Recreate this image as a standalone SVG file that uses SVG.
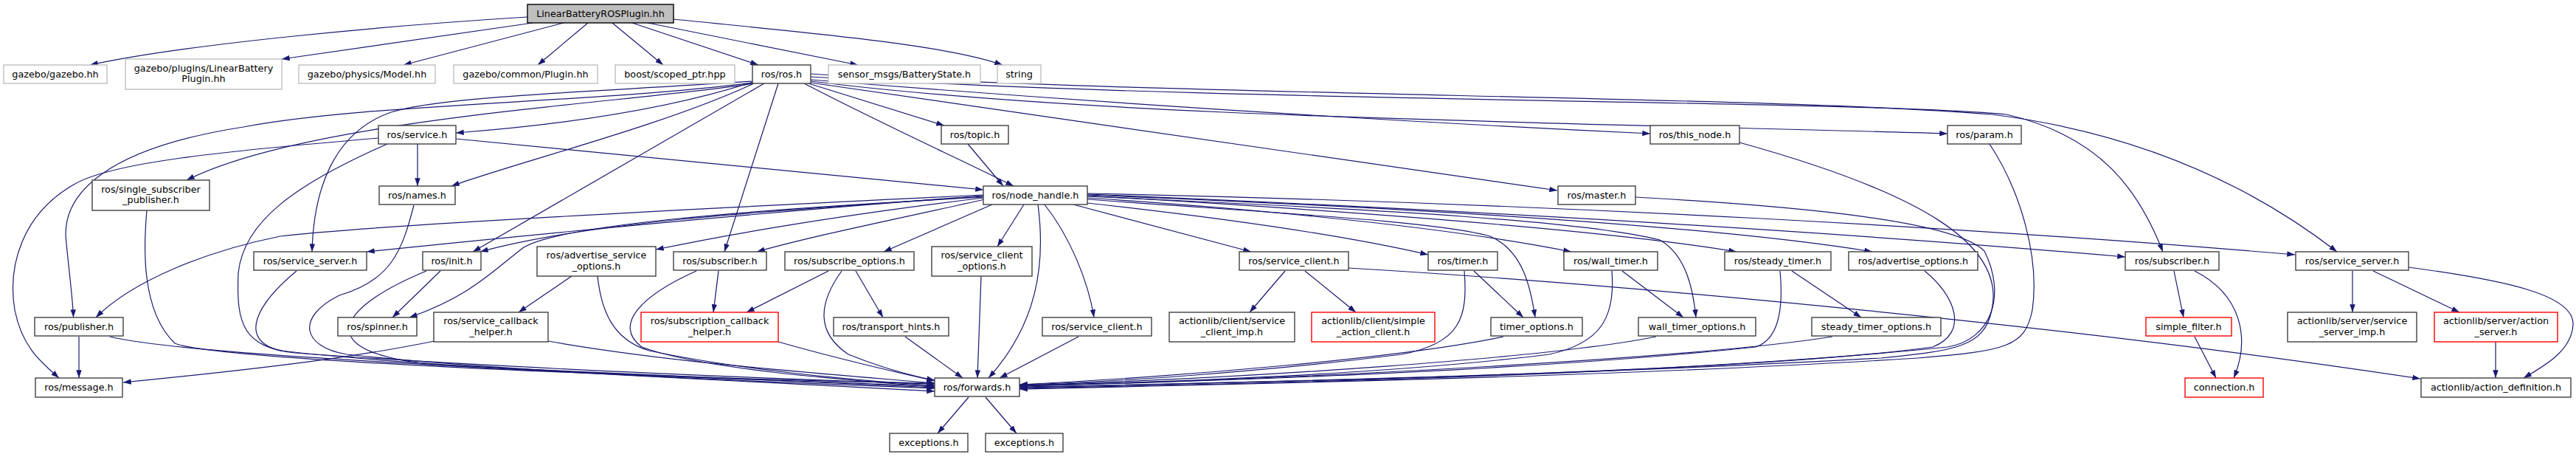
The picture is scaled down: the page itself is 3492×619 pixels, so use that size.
<svg xmlns="http://www.w3.org/2000/svg" width="3492" height="619" viewBox="0 0 3492 619">
<style>
rect{fill:#fff;stroke:#404040;stroke-width:1.4}
.g rect{stroke:#bfbfbf}
.r rect{stroke:#ff0000}
.root rect{fill:#bfbfbf;stroke:#000}
text{font-family:"DejaVu Sans","Liberation Sans",sans-serif;font-size:12.8px;fill:#000;text-anchor:middle}
#edges path{fill:none;stroke:#191970;stroke-width:1.2;marker-end:url(#ah)}
</style>
<defs>
<marker id="ah" viewBox="0 0 10 7" markerWidth="11" markerHeight="7.5" markerUnits="userSpaceOnUse" refX="10" refY="3.5" orient="auto"><path d="M0,0 L10,3.5 L0,7 z" fill="#191970"/></marker>
</defs>
<rect x="0" y="0" width="3492" height="619" style="fill:#fff;stroke:none"/>
<g id="edges">
<path d="M715,23 C520,35 250,60 122,88"/>
<path d="M722,31 L382,80"/>
<path d="M764,31 L547,88"/>
<path d="M797,31 L729,88"/>
<path d="M830,31 L899,88"/>
<path d="M857,31 L1028,88"/>
<path d="M878,31 L1163,88"/>
<path d="M913,26 C1100,45 1280,60 1359,88"/>
<path d="M1022,113 C850,140 420,160 253,244"/>
<path d="M1021,111 C900,150 750,170 618,180"/>
<path d="M1022,113 C900,170 700,220 612,252"/>
<path d="M1021,112 C800,140 500,140 330,172 C150,200 80,260 90,330 C95,380 99,410 99.5,430"/>
<path d="M1021,110 C800,125 600,130 530,152 C450,180 425,260 423,341"/>
<path d="M1036,113 L641,341"/>
<path d="M1055,113 L982,341"/>
<path d="M1096,113 L1280,170"/>
<path d="M1090,113 C1200,170 1300,215 1374,252"/>
<path d="M1099,108 C1500,140 1900,165 2237,181"/>
<path d="M1099,110 C1500,160 2100,165 2640,181"/>
<path d="M1099,112 L2111,258"/>
<path d="M1099,100 C1600,130 2400,130 2700,155 C2900,180 3050,250 3168,341"/>
<path d="M1099,104 C1700,140 2500,135 2720,155 C2850,185 2900,260 2932,341"/>
<path d="M1333,264 C1000,280 500,305 380,320 C280,340 180,380 130,430"/>
<path d="M1333,265 C1000,290 700,320 497,341"/>
<path d="M1333,266 C1050,285 800,300 651,341"/>
<path d="M1333,267 C1000,285 760,305 710,335 C670,365 640,400 555,430"/>
<path d="M1333,268 C1150,290 1000,315 889,338"/>
<path d="M1335,270 C1200,300 1100,320 1026,341"/>
<path d="M1345,277 L1198,341"/>
<path d="M1388,277 L1352,334"/>
<path d="M1407,277 C1418,360 1405,440 1340,512"/>
<path d="M1416,277 C1450,320 1475,380 1483,430"/>
<path d="M1455,277 L1696,341"/>
<path d="M1474,275 C1700,300 1850,325 1936,345"/>
<path d="M1474,270 C1750,290 1950,300 2020,320 C2065,340 2075,390 2081,430"/>
<path d="M1474,268 C1800,290 2000,315 2130,341"/>
<path d="M1474,266 C1900,285 2150,300 2250,325 C2285,345 2295,390 2299,430"/>
<path d="M1474,265 C1900,290 2200,315 2354,341"/>
<path d="M1474,264 C2000,285 2350,310 2538,341"/>
<path d="M1474,263 C2000,285 2500,315 2881,348"/>
<path d="M1474,262 C2100,275 2700,310 3111,345"/>
<path d="M597,367 L532,430"/>
<path d="M578,367 C450,420 420,480 600,495 C900,510 1150,520 1267,525"/>
<path d="M561,278 C545,340 530,380 460,400 C400,430 410,470 470,480 C700,505 1100,520 1267,526"/>
<path d="M566,195 L566,252"/>
<path d="M618,188 C900,215 1150,240 1333,257"/>
<path d="M513,187 C300,205 150,220 100,250 C30,290 10,360 20,420 C30,470 55,490 80,512"/>
<path d="M525,195 C400,250 330,300 323,370 C320,440 330,470 400,478 C700,500 1100,515 1267,520"/>
<path d="M199,285 C195,330 190,420 237,465 C300,490 900,510 1267,523"/>
<path d="M107,456 L107,512"/>
<path d="M149,456 C250,480 600,495 1267,530"/>
<path d="M402,367 C350,410 320,460 380,475 C600,500 1000,515 1267,519"/>
<path d="M589,462 C500,480 400,495 167,518"/>
<path d="M743,462 C900,490 1100,505 1267,519"/>
<path d="M775,374 L703,423"/>
<path d="M810,374 C815,420 830,460 880,475 C1000,500 1150,515 1267,522"/>
<path d="M974,367 L967,423"/>
<path d="M944,367 C870,400 830,440 870,470 C950,500 1150,515 1267,524"/>
<path d="M1123,367 L1012,423"/>
<path d="M1160,367 L1197,430"/>
<path d="M1141,367 C1110,410 1105,450 1150,480 C1200,500 1240,510 1267,515"/>
<path d="M1055,463 C1150,490 1220,505 1267,516"/>
<path d="M1227,456 L1305,512"/>
<path d="M1330,374 L1325,512"/>
<path d="M1462,456 L1355,512"/>
<path d="M1742,367 L1694,423"/>
<path d="M1769,367 L1838,423"/>
<path d="M1828,363 C2200,385 2800,440 3281,513"/>
<path d="M1998,367 L2065,430"/>
<path d="M1985,367 C1990,430 1980,465 1900,480 C1700,505 1500,518 1382,521"/>
<path d="M2199,367 L2282,430"/>
<path d="M2185,367 C2190,430 2170,465 2100,480 C1900,505 1600,518 1382,522"/>
<path d="M2038,456 C1900,485 1600,510 1382,521"/>
<path d="M2245,456 C2100,485 1700,512 1382,522"/>
<path d="M2429,367 L2523,430"/>
<path d="M2413,367 C2418,420 2410,460 2380,470 C2100,500 1700,515 1382,523"/>
<path d="M2484,456 C2300,485 1800,512 1382,523"/>
<path d="M2609,367 C2650,400 2670,450 2620,470 C2400,500 1900,515 1382,524"/>
<path d="M2358,193 C2600,260 2720,330 2700,420 C2690,470 2650,475 2550,485 C2200,505 1700,518 1382,525"/>
<path d="M2217,267 C2450,280 2650,300 2690,340 C2720,400 2700,460 2640,470 C2300,505 1800,518 1382,526"/>
<path d="M2697,195 C2740,260 2765,350 2755,420 C2745,470 2720,475 2600,485 C2200,510 1700,520 1382,527"/>
<path d="M2947,367 L2960,430"/>
<path d="M2975,367 C3040,400 3050,460 3028,512"/>
<path d="M2975,456 L3004,512"/>
<path d="M3189,367 L3189,423"/>
<path d="M3217,367 L3334,423"/>
<path d="M3265,362 C3400,380 3490,400 3488,440 C3486,475 3450,495 3421,512"/>
<path d="M3383,463 L3383,512"/>
<path d="M1312,195 L1360,252"/>
<path d="M1313,538 L1271,587"/>
<path d="M1336,538 L1378,587"/>
</g>
<g id="node1" class="root"><rect x="715" y="6" width="198" height="25"/><text x="814" y="22.5">LinearBatteryROSPlugin.hh</text></g>
<g id="node2" class="g"><rect x="5" y="88" width="140" height="25"/><text x="75" y="104.5">gazebo/gazebo.hh</text></g>
<g id="node3" class="g"><rect x="170" y="80" width="212" height="41"/><text x="276" y="96.5">gazebo/plugins/LinearBattery</text><text x="276" y="111">Plugin.hh</text></g>
<g id="node4" class="g"><rect x="405" y="88" width="185" height="25"/><text x="497.5" y="104.5">gazebo/physics/Model.hh</text></g>
<g id="node5" class="g"><rect x="615" y="88" width="195" height="25"/><text x="712.5" y="104.5">gazebo/common/Plugin.hh</text></g>
<g id="node6" class="g"><rect x="834" y="88" width="162" height="25"/><text x="915" y="104.5">boost/scoped_ptr.hpp</text></g>
<g id="node7"><rect x="1020" y="88" width="79" height="25"/><text x="1059.5" y="104.5">ros/ros.h</text></g>
<g id="node8" class="g"><rect x="1123" y="88" width="206" height="25"/><text x="1226" y="104.5">sensor_msgs/BatteryState.h</text></g>
<g id="node9" class="g"><rect x="1352" y="88" width="59" height="25"/><text x="1381.5" y="104.5">string</text></g>
<g id="node10"><rect x="513" y="170" width="105" height="25"/><text x="565.5" y="186.5">ros/service.h</text></g>
<g id="node11"><rect x="125" y="244" width="159" height="41"/><text x="204.5" y="260.5">ros/single_subscriber</text><text x="204.5" y="275">_publisher.h</text></g>
<g id="node12"><rect x="514" y="252" width="103" height="25"/><text x="565.5" y="268.5">ros/names.h</text></g>
<g id="node13"><rect x="1276" y="170" width="91" height="25"/><text x="1321.5" y="186.5">ros/topic.h</text></g>
<g id="node14"><rect x="1333" y="252" width="141" height="25"/><text x="1403.5" y="268.5">ros/node_handle.h</text></g>
<g id="node15"><rect x="2237" y="170" width="121" height="25"/><text x="2297.5" y="186.5">ros/this_node.h</text></g>
<g id="node16"><rect x="2112" y="252" width="105" height="25"/><text x="2164.5" y="268.5">ros/master.h</text></g>
<g id="node17"><rect x="2640" y="170" width="100" height="25"/><text x="2690" y="186.5">ros/param.h</text></g>
<g id="node18"><rect x="344" y="341" width="153" height="25"/><text x="420.5" y="357.5">ros/service_server.h</text></g>
<g id="node19"><rect x="47" y="430" width="120" height="25"/><text x="107" y="446.5">ros/publisher.h</text></g>
<g id="node20"><rect x="48" y="512" width="118" height="26"/><text x="107" y="529">ros/message.h</text></g>
<g id="node21"><rect x="458" y="430" width="107" height="25"/><text x="511.5" y="446.5">ros/spinner.h</text></g>
<g id="node22"><rect x="573" y="341" width="79" height="25"/><text x="612.5" y="357.5">ros/init.h</text></g>
<g id="node23"><rect x="588" y="423" width="155" height="40"/><text x="665.5" y="439">ros/service_callback</text><text x="665.5" y="454">_helper.h</text></g>
<g id="node24"><rect x="728" y="334" width="161" height="40"/><text x="808.5" y="350">ros/advertise_service</text><text x="808.5" y="365">_options.h</text></g>
<g id="node25"><rect x="913" y="341" width="126" height="25"/><text x="976" y="357.5">ros/subscriber.h</text></g>
<g id="node26"><rect x="1064" y="341" width="175" height="25"/><text x="1151.5" y="357.5">ros/subscribe_options.h</text></g>
<g id="node27" class="r"><rect x="869" y="423" width="186" height="40"/><text x="962" y="439">ros/subscription_callback</text><text x="962" y="454">_helper.h</text></g>
<g id="node28"><rect x="1130" y="430" width="156" height="25"/><text x="1208" y="446.5">ros/transport_hints.h</text></g>
<g id="node29"><rect x="1263" y="334" width="136" height="40"/><text x="1331" y="350">ros/service_client</text><text x="1331" y="365">_options.h</text></g>
<g id="node30"><rect x="1413" y="430" width="148" height="25"/><text x="1487" y="446.5">ros/service_client.h</text></g>
<g id="node31"><rect x="1585" y="423" width="170" height="40"/><text x="1670" y="439">actionlib/client/service</text><text x="1670" y="454">_client_imp.h</text></g>
<g id="node32"><rect x="1680" y="341" width="148" height="25"/><text x="1754" y="357.5">ros/service_client.h</text></g>
<g id="node33"><rect x="1267" y="512" width="115" height="25"/><text x="1324.5" y="528.5">ros/forwards.h</text></g>
<g id="node34"><rect x="1206" y="587" width="106" height="25"/><text x="1259" y="603.5">exceptions.h</text></g>
<g id="node35"><rect x="1336" y="587" width="105" height="25"/><text x="1388.5" y="603.5">exceptions.h</text></g>
<g id="node36" class="r"><rect x="1778" y="423" width="167" height="40"/><text x="1861.5" y="439">actionlib/client/simple</text><text x="1861.5" y="454">_action_client.h</text></g>
<g id="node37"><rect x="1936" y="341" width="94" height="25"/><text x="1983" y="357.5">ros/timer.h</text></g>
<g id="node38"><rect x="2021" y="430" width="124" height="25"/><text x="2083" y="446.5">timer_options.h</text></g>
<g id="node39"><rect x="2120" y="341" width="127" height="25"/><text x="2183.5" y="357.5">ros/wall_timer.h</text></g>
<g id="node40"><rect x="2221" y="430" width="159" height="25"/><text x="2300.5" y="446.5">wall_timer_options.h</text></g>
<g id="node41"><rect x="2338" y="341" width="144" height="25"/><text x="2410" y="357.5">ros/steady_timer.h</text></g>
<g id="node42"><rect x="2456" y="430" width="175" height="25"/><text x="2543.5" y="446.5">steady_timer_options.h</text></g>
<g id="node43"><rect x="2506" y="341" width="175" height="25"/><text x="2593.5" y="357.5">ros/advertise_options.h</text></g>
<g id="node44"><rect x="2881" y="341" width="127" height="25"/><text x="2944.5" y="357.5">ros/subscriber.h</text></g>
<g id="node45" class="r"><rect x="2909" y="430" width="116" height="25"/><text x="2967" y="446.5">simple_filter.h</text></g>
<g id="node46"><rect x="3112" y="341" width="153" height="25"/><text x="3188.5" y="357.5">ros/service_server.h</text></g>
<g id="node47" class="r"><rect x="2962" y="512" width="106" height="26"/><text x="3015" y="529">connection.h</text></g>
<g id="node48"><rect x="3101" y="423" width="175" height="40"/><text x="3188.5" y="439">actionlib/server/service</text><text x="3188.5" y="454">_server_imp.h</text></g>
<g id="node49" class="r"><rect x="3300" y="423" width="167" height="40"/><text x="3383.5" y="439">actionlib/server/action</text><text x="3383.5" y="454">_server.h</text></g>
<g id="node50"><rect x="3282" y="512" width="203" height="26"/><text x="3383.5" y="529">actionlib/action_definition.h</text></g>
</svg>
